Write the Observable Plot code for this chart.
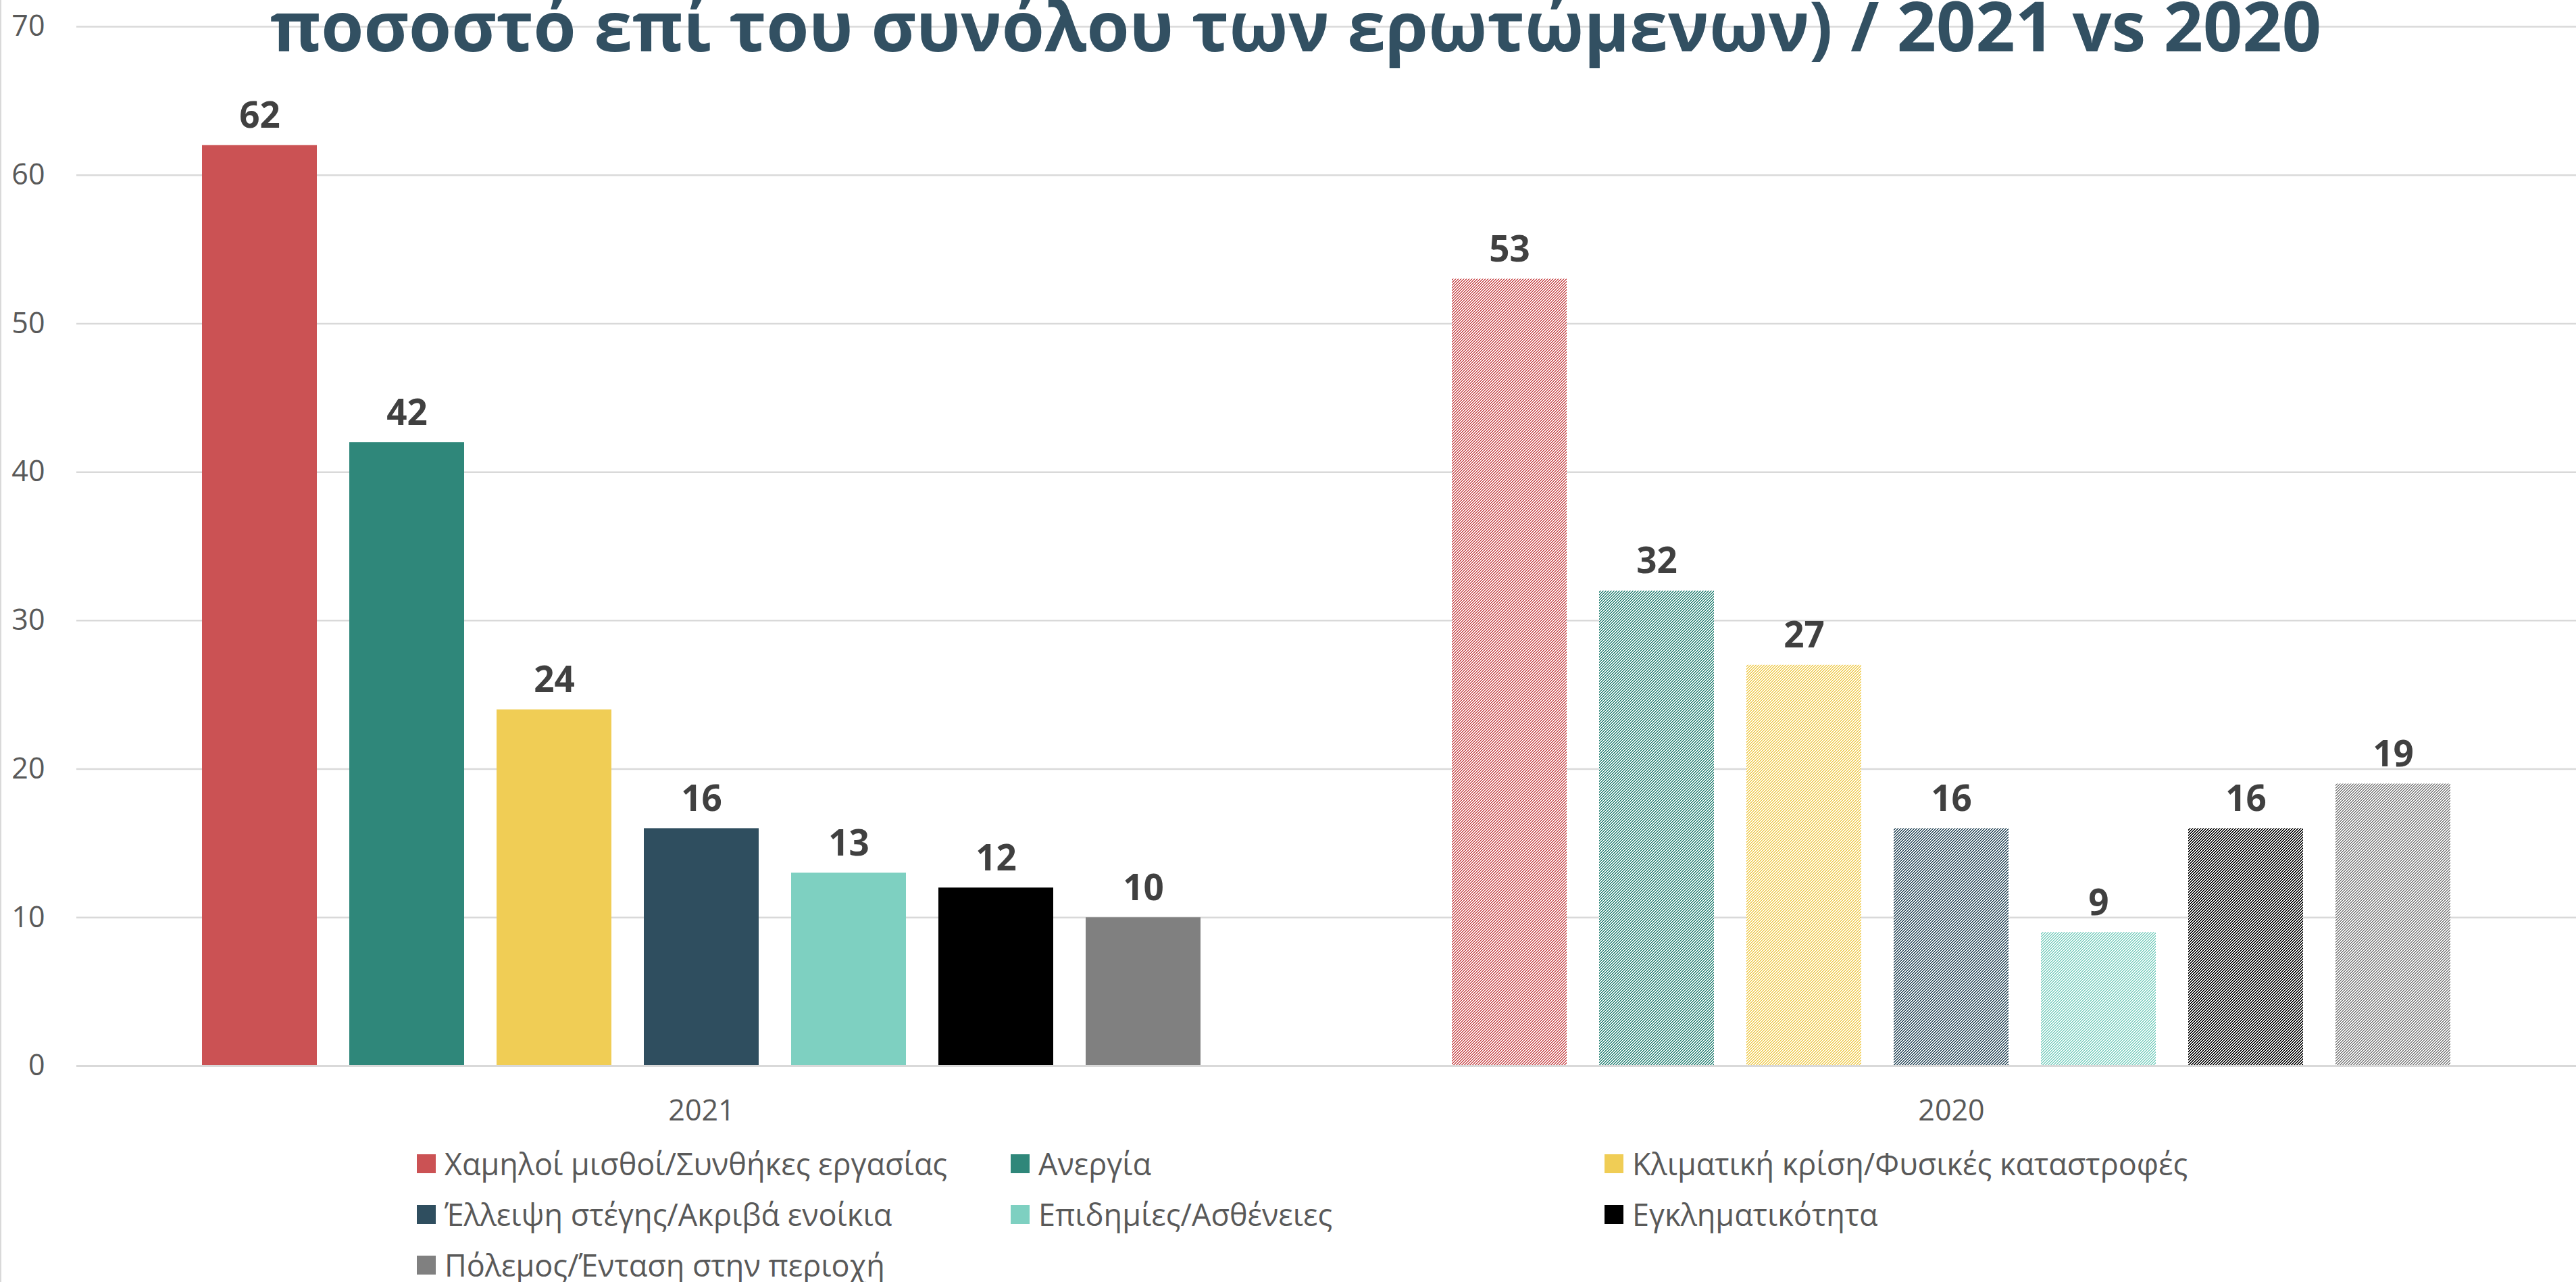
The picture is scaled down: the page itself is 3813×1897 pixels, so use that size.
<!DOCTYPE html>
<html>
<head>
<meta charset="utf-8">
<script src="https://cdn.jsdelivr.net/npm/d3@7"></script>
<script src="https://cdn.jsdelivr.net/npm/@observablehq/plot@0.6"></script>
<style>
  html, body { margin: 0; padding: 0; background: #fff; }
  body { width: 3813px; height: 1897px; position: relative; overflow: hidden; font-family: "Open Sans", sans-serif; }
  #edge { position: absolute; left: 0; top: 0; width: 2px; height: 1897px; background: #d9d9d9; }
  #chart { position: absolute; left: 0; top: 0; }
  #legend { position: absolute; left: 0; top: 0; width: 3813px; height: 1897px; pointer-events: none; }
  .item { position: absolute; display: flex; align-items: center; height: 60px; }
  .sw { width: 28px; height: 28px; margin-right: 13px; flex: none; }
  .lab { font-size: 45px; color: #595959; white-space: nowrap; line-height: 60px; }
</style>
</head>
<body>
<div id="edge"></div>
<div id="chart"></div>
<div id="legend"></div>
<script>
const titleText = "ποσοστό επί του συνόλου των ερωτώμενων) / 2021 vs 2020";
const years = ["2021", "2020"];
const categories = [
  "Χαμηλοί μισθοί/Συνθήκες εργασίας",
  "Ανεργία",
  "Κλιματική κρίση/Φυσικές καταστροφές",
  "Έλλειψη στέγης/Ακριβά ενοίκια",
  "Επιδημίες/Ασθένειες",
  "Εγκληματικότητα",
  "Πόλεμος/Ένταση στην περιοχή"
];
const values2021 = [62, 42, 24, 16, 13, 12, 10];
const values2020 = [53, 32, 27, 16, 9, 16, 19];
const colors = ["#cb5254", "#2f877a", "#f0cd55", "#2f4e5f", "#7ed0c1", "#000000", "#808080"];
const yTicks = [0, 10, 20, 30, 40, 50, 60, 70];

const data = [];
categories.forEach((c, i) => data.push({year: "2021", cat: c, value: values2021[i], key: "2021|" + i}));
categories.forEach((c, i) => data.push({year: "2020", cat: c, value: values2020[i], key: "2020|" + i}));

const keyDomain = data.map(d => d.key);
const keyRange = data.map(d => {
  const i = +d.key.split("|")[1];
  return d.year === "2021" ? colors[i] : `url(#hatch-${i})`;
});

const W = 3813, H = 1680;
const plot = Plot.plot({
  width: W,
  height: H,
  marginLeft: 112,
  marginRight: 0,
  marginTop: 39,
  marginBottom: H - 1577,
  style: {fontFamily: "Open Sans, sans-serif", background: "transparent", overflow: "visible"},
  fx: {domain: years, padding: 0, label: null},
  x: {domain: categories, paddingInner: 0.22, paddingOuter: 0.853, axis: null},
  y: {domain: [0, 70], ticks: yTicks, label: null},
  color: {type: "ordinal", domain: keyDomain, range: keyRange},
  marks: [
    Plot.gridY(yTicks, {stroke: "#d9d9d9", strokeOpacity: 1, strokeWidth: 2.5}),
    Plot.axisY(yTicks, {tickSize: 0, tickPadding: 47, fontSize: 43, fill: "#595959", label: null, tickFormat: d => String(d)}),
    Plot.axisFx({anchor: "bottom", tickSize: 0, tickPadding: 50, fontSize: 43, fill: "#595959", label: null}),
    Plot.barY(data, {fx: "year", x: "cat", y: "value", fill: "key"}),
    Plot.ruleY([0], {stroke: "#d9d9d9", strokeWidth: 3}),
    Plot.text(data, {fx: "year", x: "cat", y: "value", text: d => String(d.value),
      lineAnchor: "middle", dy: -43, fontSize: 53, fontWeight: "bold", fill: "#404040"})
  ]
});

// crisp pixel hatch patterns ("/" diagonals) for 2020 bars
const svg = d3.select(plot);
const defs = svg.insert("defs", ":first-child");
colors.forEach((c, i) => {
  const p = defs.append("pattern")
    .attr("id", `hatch-${i}`)
    .attr("patternUnits", "userSpaceOnUse")
    .attr("width", 4).attr("height", 4);
  p.append("rect").attr("width", 4).attr("height", 4).attr("fill", "#ffffff");
  for (let k = 0; k < 4; k++) {
    p.append("rect").attr("x", k).attr("y", 3 - k).attr("width", 1).attr("height", 1)
      .attr("fill", c).attr("shape-rendering", "crispEdges");
    p.append("rect").attr("x", k).attr("y", (4 - k) % 4).attr("width", 1).attr("height", 1)
      .attr("fill", c).attr("shape-rendering", "crispEdges");
  }
});

// title drawn over gridlines
svg.append("text")
  .attr("x", 1918).attr("y", 76)
  .attr("text-anchor", "middle")
  .attr("font-family", "Open Sans, sans-serif")
  .attr("font-weight", "bold")
  .attr("font-size", 102)
  .attr("fill", "#325062")
  .text(titleText);

document.getElementById("chart").appendChild(plot);

// legend
const legend = document.getElementById("legend");
const colX = [617, 1496, 2375];
const rowY = [1722, 1797, 1872];
categories.forEach((c, i) => {
  const row = Math.floor(i / 3), col = i % 3;
  const item = document.createElement("div");
  item.className = "item";
  item.style.left = colX[col] + "px";
  item.style.top = (rowY[row] - 30) + "px";
  const sw = document.createElement("div");
  sw.className = "sw";
  sw.style.background = colors[i];
  const lab = document.createElement("span");
  lab.className = "lab";
  lab.textContent = c;
  item.appendChild(sw);
  item.appendChild(lab);
  legend.appendChild(item);
});
</script>
</body>
</html>
